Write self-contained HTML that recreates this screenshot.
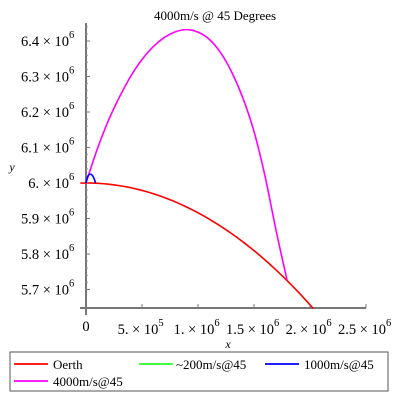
<!DOCTYPE html>
<html><head><meta charset="utf-8"><style>
body{margin:0;background:#fff;}
svg{display:block;font-family:"Liberation Serif",serif;}
</style></head><body>
<svg id="c" width="400" height="400">
<text x="215" y="20" text-anchor="middle" font-size="13">4000m/s @ 45 Degrees</text>
<g id="plot"></g>
<text x="228" y="348" font-size="12" font-style="italic" text-anchor="middle">x</text>
<text x="12" y="171" font-size="12" font-style="italic" text-anchor="middle">y</text>
<g>
<rect x="10" y="352" width="378" height="39" fill="none" stroke="#555"/>
<g><line x1="14" y1="364" x2="48" y2="364" stroke="#ff2020" stroke-width="2"/><text x="53" y="369" font-size="13">Oerth</text></g>
<g><line x1="139" y1="364" x2="173" y2="364" stroke="#40ff40" stroke-width="2"/><text x="176" y="369" font-size="13">~200m/s@45</text></g>
<g><line x1="265" y1="364" x2="299" y2="364" stroke="#2020ff" stroke-width="2"/><text x="304" y="369" font-size="13">1000m/s@45</text></g>
<g><line x1="14" y1="381" x2="48" y2="381" stroke="#ff20ff" stroke-width="2"/><text x="53" y="386" font-size="13">4000m/s@45</text></g>
</g>
</svg>
<script>
const xTicks=[0,0.5e6,1e6,1.5e6,2e6,2.5e6];
const xTickLabels=["0","5. × 10","1. × 10","1.5 × 10","2. × 10","2.5 × 10"];
const xTickExp=["","5","6","6","6","6"];
const yTicks=[5.7e6,5.8e6,5.9e6,6.0e6,6.1e6,6.2e6,6.3e6,6.4e6];
const yTickLabels=["5.7 × 10","5.8 × 10","5.9 × 10","6. × 10","6.1 × 10","6.2 × 10","6.3 × 10","6.4 × 10"];
const magX=[0,0.1e6,0.2e6,0.3e6,0.4e6,0.5e6,0.6e6,0.7e6,0.8e6,0.9e6,1.0e6,1.1e6,1.2e6,1.3e6,1.4e6,1.5e6,1.6e6,1.7e6,1.795e6];
const magY=[6.0e6,6.095e6,6.176e6,6.243e6,6.301e6,6.348e6,6.384e6,6.41e6,6.426e6,6.432e6,6.425e6,6.405e6,6.368e6,6.313e6,6.24e6,6.145e6,6.017e6,5.862e6,5.727e6];
const blueX=[0,0.01e6,0.02e6,0.04e6,0.06e6,0.075e6,0.085e6];
const blueY=[6.0e6,6.014e6,6.021e6,6.025e6,6.02e6,6.01e6,6.0e6];
const greenX=[0,0.002e6,0.004e6];
const greenY=[6.0e6,6.001e6,6.0e6];
const earthR=6e6;
const earthX0=-0.05e6, earthX1=2.03e6;
const sx=v=>86+v*112/1e6;
const sy=v=>183-(v-6e6)*355/1e6;
const NS="http://www.w3.org/2000/svg";
const g=document.getElementById('plot');
function el(t,a){const e=document.createElementNS(NS,t);for(const k in a)e.setAttribute(k,a[k]);g.appendChild(e);return e;}
let ax=el('line',{x1:86,y1:23,x2:86,y2:315,stroke:'#777','stroke-width':2});


let axx=el('line',{x1:80,y1:308,x2:366,y2:308,stroke:'#777','stroke-width':2});


for(let i=0;i<yTicks.length;i++){
  const y=sy(yTicks[i]);
  const t=el('line',{x1:86,y1:y,x2:90,y2:y,stroke:'#777'});
  
  
  for(let m=1;m<5;m++){const my=y-m*7.1;if(my>23)el('line',{x1:86,y1:my,x2:88,y2:my,stroke:'#999'});}
  const tx=el('text',{x:69,y:y+5,'font-size':14.5,'text-anchor':'end'});tx.textContent=yTickLabels[i];
  
  
  const ex=el('text',{x:69,y:y-3,'font-size':10.5});ex.textContent='6';
}
for(let i=0;i<xTicks.length;i++){
  const x=sx(xTicks[i]);
  const t=el('line',{x1:x,y1:308,x2:x,y2:304,stroke:'#777'});
  
  
  const tx=el('text',{x:i==0?x:x-4,y:i==0?331:334,'font-size':14.5,'text-anchor':'middle'});tx.textContent=xTickLabels[i];
  
  
  if(xTickExp[i]){const w=tx.getComputedTextLength();const ex=el('text',{x:x-4+w/2,y:326,'font-size':10.5});ex.textContent=xTickExp[i];}
}
function smoothPath(xs,ys){
  const P=xs.map((x,i)=>[sx(x),sy(ys[i])]);
  let d='M'+P[0][0]+','+P[0][1];
  for(let i=0;i<P.length-1;i++){
    const p0=P[i-1]||P[i],p1=P[i],p2=P[i+1],p3=P[i+2]||P[i+1];
    const c1=[p1[0]+(p2[0]-p0[0])/6,p1[1]+(p2[1]-p0[1])/6];
    const c2=[p2[0]-(p3[0]-p1[0])/6,p2[1]-(p3[1]-p1[1])/6];
    d+=' C'+c1.join(',')+' '+c2.join(',')+' '+p2.join(',');
  }
  return d;
}
function curve(xs,ys,c,name){
  const p=el('path',{d:smoothPath(xs,ys),fill:'none',stroke:c,'stroke-width':1.6});
  
  
}
const ex=[],ey=[];
for(let i=0;i<=60;i++){const x=earthX0+(earthX1-earthX0)*i/60;ex.push(x);ey.push(Math.sqrt(earthR*earthR-x*x));}
curve(ex,ey,'#ff0000','oerth-curve');
curve(greenX,greenY,'#00ff00','series-200');
curve(magX,magY,'#ff00ff','series-4000');
curve(blueX,blueY,'#0000ff','series-1000');
</script>
</body></html>
